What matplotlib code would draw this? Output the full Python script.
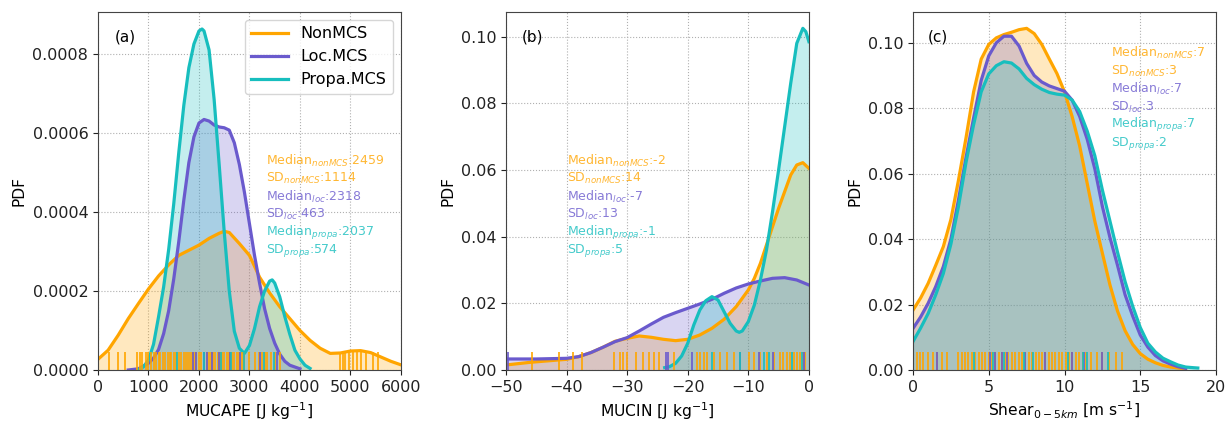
import numpy as np
import matplotlib
matplotlib.use("Agg")
import matplotlib.pyplot as plt

# ---------------- data ----------------
series_names = ["NonMCS", "Loc.MCS", "Propa.MCS"]
colors = ["#FFA500", "#6A5ACD", "#17BEBE"]

# Panel (a) MUCAPE  (PDF values in units of 1e-4)
a_non_x = [0, 200, 400, 600, 800, 1000, 1200, 1400, 1600, 1800, 2000, 2200, 2400, 2500, 2600, 2800,
           3000, 3200, 3400, 3600, 3800, 4000, 4200, 4400, 4600, 4800, 5000, 5200, 5400, 5600, 5800, 6000]
a_non_y = [0.27, 0.5, 0.88, 1.3, 1.68, 2.05, 2.38, 2.66, 2.9, 3.03, 3.16, 3.33, 3.46, 3.51, 3.48, 3.2,
           2.9, 2.35, 1.95, 1.6, 1.3, 1.0, 0.75, 0.55, 0.42, 0.43, 0.48, 0.49, 0.44, 0.33, 0.22, 0.13]
a_loc_x = [600, 800, 1000, 1100, 1200, 1300, 1400, 1500, 1600, 1700, 1800, 1900, 2000, 2100, 2200, 2300,
           2400, 2500, 2600, 2700, 2800, 2900, 3000, 3100, 3200, 3300, 3400, 3500, 3600, 3700, 3800, 4000]
a_loc_y = [0.0, 0.03, 0.17, 0.3, 0.52, 0.92, 1.5, 2.3, 3.25, 4.3, 5.25, 5.9, 6.25, 6.34, 6.3, 6.2,
           6.15, 6.13, 6.07, 5.75, 5.2, 4.5, 3.7, 2.9, 2.2, 1.55, 1.05, 0.68, 0.4, 0.22, 0.12, 0.03]
a_pro_x = [800, 900, 1000, 1100, 1200, 1300, 1400, 1500, 1600, 1700, 1800, 1900, 2000, 2060, 2100, 2200,
           2300, 2400, 2500, 2600, 2700, 2800, 2900, 3000, 3100, 3200, 3300, 3400, 3450, 3500, 3600, 3700,
           3800, 3900, 4000, 4100, 4200]
a_pro_y = [0.0, 0.08, 0.25, 0.65, 1.35, 2.1, 3.05, 4.2, 5.5, 6.7, 7.65, 8.25, 8.58, 8.63, 8.58, 8.1,
           6.85, 5.2, 3.5, 2.0, 0.98, 0.55, 0.42, 0.62, 1.05, 1.6, 2.0, 2.25, 2.28, 2.2, 1.85, 1.35,
           0.9, 0.5, 0.28, 0.12, 0.04]

# Panel (b) MUCIN (PDF values in units of 1e-2)
b_non_x = [-50, -48, -46, -44, -42, -40, -38, -36, -34, -32, -30, -28, -26, -24, -22, -20, -18, -16, -14,
           -12, -10, -9, -8, -7, -6, -5, -4, -3, -2, -1, 0]
b_non_y = [0.15, 0.19, 0.23, 0.26, 0.29, 0.32, 0.40, 0.52, 0.68, 0.86, 0.95, 1.02, 0.98, 0.92, 0.88, 0.92,
           1.05, 1.25, 1.52, 1.9, 2.4, 2.75, 3.2, 3.75, 4.3, 4.85, 5.35, 5.85, 6.15, 6.22, 6.05]
b_loc_x = [-50, -45, -40, -38, -36, -34, -32, -30, -28, -26, -24, -22, -20, -18, -16, -14, -12, -10,
           -8, -6, -4, -2, 0]
b_loc_y = [0.33, 0.33, 0.35, 0.40, 0.52, 0.68, 0.85, 0.97, 1.17, 1.38, 1.58, 1.72, 1.85, 1.98, 2.12,
           2.3, 2.46, 2.58, 2.67, 2.75, 2.77, 2.7, 2.55]
b_pro_x = [-23.8, -23, -22, -21, -20, -19, -18, -17, -16, -15, -14, -13, -12, -11.5, -11, -10, -9, -8,
           -7, -6, -5, -4, -3, -2, -1, -0.5, 0]
b_pro_y = [0.07, 0.1, 0.2, 0.42, 0.8, 1.35, 1.8, 2.08, 2.2, 2.1, 1.75, 1.4, 1.17, 1.13, 1.17, 1.45, 1.95,
           2.7, 3.6, 4.75, 6.0, 7.3, 8.6, 9.8, 10.25, 10.15, 9.85]

# Panel (c) Shear 0-5km (PDF values in units of 1e-2)
c_x = [0, 0.5, 1, 1.5, 2, 2.5, 3, 3.5, 4, 4.5, 5, 5.5, 6, 6.5, 7, 7.5, 8, 8.5, 9, 9.5, 10, 10.5, 11,
       11.5, 12, 12.5, 13, 13.5, 14, 14.5, 15, 15.5, 16, 16.5, 17, 17.5, 18]
c_non_y = [1.83, 2.2, 2.65, 3.2, 3.77, 4.6, 5.8, 7.1, 8.5, 9.5, 9.95, 10.15, 10.25, 10.32, 10.4, 10.44,
           10.28, 9.95, 9.5, 9.06, 8.5, 7.75, 6.85, 5.7, 4.55, 3.57, 2.6, 1.8, 1.2, 0.78, 0.5, 0.33,
           0.22, 0.14, 0.09, 0.06, 0.03]
c_loc_y = [1.27, 1.62, 2.04, 2.55, 3.16, 4.0, 5.2, 6.5, 7.7, 8.85, 9.6, 10.0, 10.2, 10.2, 9.9, 9.37,
           9.0, 8.8, 8.68, 8.6, 8.52, 8.25, 7.75, 7.05, 6.15, 5.0, 4.05, 3.2, 2.3, 1.65, 1.07, 0.7,
           0.44, 0.28, 0.18, 0.1, 0.05]
c_pro_x = c_x + [18.5, 18.8]
c_pro_y = [0.87, 1.28, 1.73, 2.3, 2.95, 3.85, 5.0, 6.35, 7.5, 8.5, 9.05, 9.3, 9.42, 9.38, 9.2, 8.91,
           8.72, 8.58, 8.48, 8.43, 8.4, 8.25, 7.9, 7.3, 6.55, 5.5, 4.55, 3.6, 2.7, 1.95, 1.3, 0.82,
           0.55, 0.36, 0.25, 0.15, 0.09, 0.07, 0.06]

# Rug observations
a_non_rug = [220, 400, 540, 780, 830, 880, 950, 1000, 1050, 1100, 1150, 1200, 1230, 1280, 1320, 1380,
             1420, 1450, 1500, 1550, 1600, 1640, 1700, 1750, 1780, 1820, 1860, 1900, 1950, 2000, 2050,
             2100, 2150, 2200, 2240, 2280, 2320, 2380, 2420, 2460, 2500, 2550, 2600, 2650, 2700, 2750,
             2800, 2850, 2900, 3000, 3100, 3180, 3250, 3300, 3350, 3420, 3500, 3600,
             4800, 4850, 4900, 4980, 5050, 5120, 5200, 5300, 5450, 5550]
a_loc_rug = [1880, 1950, 2100, 2150, 2250, 2400, 2620, 2810, 3210, 3550]
a_pro_rug = [1570, 2100, 2430, 2630, 2890, 3290, 3490]

b_non_rug = [-45.7, -41.3, -38.9, -37.5, -32.2, -31.1, -30.6, -30.0, -28.6, -27.3, -26.4, -25.6, -24.8,
             -22.3, -18.4, -17.9, -17.3, -16.8, -15.7, -14.6, -13.5, -12.4, -11.3, -9.9, -9.1, -8.0,
             -6.9, -5.8, -4.7, -4.2, -3.6, -3.1, -2.5, -2.0, -1.4, -0.9, -0.6]
b_loc_rug = [-49.6, -23.6, -23.2, -19.3, -11.4, -8.3, -6.0, -0.8]
b_pro_rug = [-16.0, -11.3, -7.4, -6.6, -2.8, -1.2]

c_non_rug = [0.24, 0.46, 0.68, 1.02, 1.35, 1.57, 1.9, 2.23, 3.0, 3.2, 3.44, 3.65, 3.89, 4.1, 4.33, 4.55,
             4.77, 5.0, 5.21, 5.43, 5.65, 5.9, 6.09, 6.3, 6.53, 6.75, 6.97, 7.2, 7.42, 7.65, 7.86, 8.1,
             8.3, 8.5, 8.74, 8.95, 9.18, 9.4, 9.62, 9.85, 10.07, 10.3, 10.5, 10.75, 10.95, 11.2, 11.39,
             11.72, 12.16, 12.5, 12.94, 13.4, 13.8]
c_loc_rug = [1.57, 5.1, 5.43, 5.87, 6.2, 7.4, 8.74, 10.5, 11.3, 12.5]
c_pro_rug = [4.0, 5.3, 6.0, 7.3, 7.9, 10.2, 11.2, 11.5, 12.9]

stats_a = [("Median", "nonMCS", "2459"), ("SD", "nonMCS", "1114"), ("Median", "loc", "2318"),
           ("SD", "loc", "463"), ("Median", "propa", "2037"), ("SD", "propa", "574")]
stats_b = [("Median", "nonMCS", "-2"), ("SD", "nonMCS", "14"), ("Median", "loc", "-7"),
           ("SD", "loc", "13"), ("Median", "propa", "-1"), ("SD", "propa", "5")]
stats_c = [("Median", "nonMCS", "7"), ("SD", "nonMCS", "3"), ("Median", "loc", "7"),
           ("SD", "loc", "3"), ("Median", "propa", "7"), ("SD", "propa", "2")]

# ---------------- plotting ----------------
plt.rcParams['font.family'] = ['DejaVu Sans']
fig = plt.figure(figsize=(12.31, 4.24), dpi=100)
ax_w, ax_h, ax_b = 0.2461, 0.8443, 0.1274
lefts = [0.0796, 0.4110, 0.7417]
axes = [fig.add_axes([l, ax_b, ax_w, ax_h]) for l in lefts]

TICK_FS = 11.5
LABEL_FS = 11.2
STAT_FS = 9.0


def draw_panel(ax, curves, rugs, scale):
    for (x, y), c, name in zip(curves, colors, series_names):
        yy = np.asarray(y) * scale
        ax.fill_between(x, 0, yy, color=c, alpha=0.25, lw=0)
        ax.plot(x, yy, color=c, lw=2.3, label=name)
    for r, c in zip(rugs, colors):
        ax.vlines(r, 0, 0.05, color=c, lw=1.2, transform=ax.get_xaxis_transform())


def stats_text(ax, stats, x0, y0, dy=0.0503):
    cidx = {"nonMCS": 0, "loc": 1, "propa": 2}
    for i, (k, s, v) in enumerate(stats):
        ax.text(x0, y0 - i * dy, k + r"$_{" + s + r"}$:" + v, transform=ax.transAxes,
                color=colors[cidx[s]], alpha=0.8, fontsize=STAT_FS, va='center', ha='left')


ax = axes[0]
draw_panel(ax, [(a_non_x, a_non_y), (a_loc_x, a_loc_y), (a_pro_x, a_pro_y)],
           [a_non_rug, a_loc_rug, a_pro_rug], 1e-4)
ax.set_xlim(0, 6000)
ax.set_ylim(0, 0.000906)
ax.set_xticks(np.arange(0, 6001, 1000))
ax.set_yticks([0, 0.0002, 0.0004, 0.0006, 0.0008])
ax.yaxis.set_major_formatter(matplotlib.ticker.FormatStrFormatter('%.4f'))
ax.set_xlabel(r"MUCAPE [J kg$^{-1}$]", fontsize=LABEL_FS)
ax.text(0.055, 0.93, "(a)", transform=ax.transAxes, fontsize=11, va='center')
stats_text(ax, stats_a, 0.553, 0.585)
ax.legend(loc='upper right', fontsize=11.5, handlelength=2.3, framealpha=0.8)

ax = axes[1]
draw_panel(ax, [(b_non_x, b_non_y), (b_loc_x, b_loc_y), (b_pro_x, b_pro_y)],
           [b_non_rug, b_loc_rug, b_pro_rug], 1e-2)
ax.set_xlim(-50, 0)
ax.set_ylim(0, 0.1074)
ax.set_xticks(np.arange(-50, 1, 10))
ax.set_yticks([0, 0.02, 0.04, 0.06, 0.08, 0.10])
ax.yaxis.set_major_formatter(matplotlib.ticker.FormatStrFormatter('%.2f'))
ax.set_xlabel(r"MUCIN [J kg$^{-1}$]", fontsize=LABEL_FS)
ax.text(0.052, 0.93, "(b)", transform=ax.transAxes, fontsize=11, va='center')
stats_text(ax, stats_b, 0.201, 0.585)

ax = axes[2]
draw_panel(ax, [(c_x, c_non_y), (c_x, c_loc_y), (c_pro_x, c_pro_y)],
           [c_non_rug, c_loc_rug, c_pro_rug], 1e-2)
ax.set_xlim(0, 20)
ax.set_ylim(0, 0.1094)
ax.set_xticks(np.arange(0, 21, 5))
ax.set_yticks([0, 0.02, 0.04, 0.06, 0.08, 0.10])
ax.yaxis.set_major_formatter(matplotlib.ticker.FormatStrFormatter('%.2f'))
ax.set_xlabel(r"Shear$_{0-5km}$ [m s$^{-1}$]", fontsize=LABEL_FS)
ax.text(0.05, 0.93, "(c)", transform=ax.transAxes, fontsize=11, va='center')
stats_text(ax, stats_c, 0.652, 0.885)

for ax in axes:
    ax.set_ylabel("PDF", fontsize=LABEL_FS)
    ax.grid(True, linestyle=':', color='#b0b0b0', lw=0.8)
    ax.set_axisbelow(True)
    ax.tick_params(labelsize=TICK_FS, colors='#222222')
    for sp in ax.spines.values():
        sp.set_color('#444444')

fig.savefig("out.png", dpi=100)
